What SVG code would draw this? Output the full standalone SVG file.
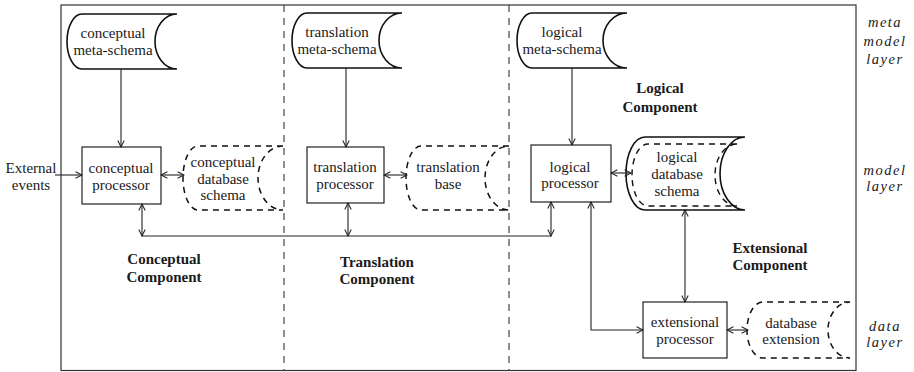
<svg xmlns="http://www.w3.org/2000/svg" width="914" height="372" viewBox="0 0 914 372">
<style>
text{font-family:"Liberation Serif","DejaVu Serif",serif;font-size:15px;fill:#1a1a1a;text-anchor:middle}
.b{font-weight:bold}
.i{font-style:italic;letter-spacing:1.5px;font-size:14.5px}
.box{fill:#fff;stroke:#222;stroke-width:1.2}
.store{fill:#fff;stroke:#111;stroke-width:1.6}
.dstore{fill:#fff;stroke:#111;stroke-width:1.5;stroke-dasharray:6 5}
.ln{fill:none;stroke:#222;stroke-width:1.1}
.frame{fill:none;stroke:#333;stroke-width:1.2}
.div{fill:none;stroke:#333;stroke-width:1.1;stroke-dasharray:7 6}
</style>
<defs>
<marker id="ah" viewBox="0 0 10 10" refX="9" refY="5" markerWidth="8" markerHeight="8" markerUnits="userSpaceOnUse" orient="auto-start-reverse">
<path d="M1,1 L9,5 L1,9" fill="none" stroke="#222" stroke-width="1.3"/>
</marker>
</defs>
<rect class="frame" x="61" y="5" width="795" height="365.5"/>
<line class="div" x1="284" y1="5" x2="284" y2="371"/>
<line class="div" x1="509" y1="5" x2="509" y2="371"/>

<g id="conceptual-meta-schema">
<path class="store" d="M177,14 L82,14 A15,27.5 0 0 0 82,69 L177,69 A22,27.5 0 0 1 177,14 Z"/>
<text x="113" y="38">conceptual</text><text x="113" y="55">meta-schema</text>
</g>
<g id="translation-meta-schema">
<path class="store" d="M402,13 L307,13 A15,27.5 0 0 0 307,68 L402,68 A23,27.5 0 0 1 402,13 Z"/>
<text x="337" y="37">translation</text><text x="337" y="54">meta-schema</text>
</g>
<g id="logical-meta-schema">
<path class="store" d="M627,13 L532,13 A15,27.5 0 0 0 532,68 L627,68 A24,27.5 0 0 1 627,13 Z"/>
<text x="562" y="37">logical</text><text x="562" y="54">meta-schema</text>
</g>

<g id="external-events"><text x="31" y="173">External</text><text x="31" y="190">events</text></g>

<g id="conceptual-processor">
<rect class="box" x="82" y="147" width="79" height="57"/>
<text x="121" y="173">conceptual</text><text x="121" y="190">processor</text>
</g>
<g id="conceptual-database-schema">
<path class="dstore" d="M283,146 L198,146 A15,32 0 0 0 198,210 L283,210 A25,32 0 0 1 283,146"/>
<text x="223" y="167">conceptual</text><text x="223" y="184">database</text><text x="223" y="200">schema</text>
</g>
<g id="translation-processor">
<rect class="box" x="307" y="147" width="77" height="56"/>
<text x="345" y="172">translation</text><text x="345" y="189">processor</text>
</g>
<g id="translation-base">
<path class="dstore" d="M509,146 L421,146 A15,32 0 0 0 421,210 L509,210 A24,32 0 0 1 509,146"/>
<text x="448" y="172">translation</text><text x="448" y="189">base</text>
</g>
<g id="logical-processor">
<rect class="box" x="531" y="145" width="80" height="57"/>
<text x="570" y="172">logical</text><text x="570" y="188">processor</text>
</g>
<g id="logical-database-schema">
<path class="store" d="M745,137 L645,137 A19,36.5 0 0 0 645,210 L745,210 A25,36.5 0 0 1 745,137 Z"/>
<path fill="none" stroke="#111" stroke-width="1.4" stroke-dasharray="6 5" d="M737,144 L648,144 A16,31 0 0 0 648,206 L737,206 A22,31 0 0 1 737,144"/>
<text x="677" y="162">logical</text><text x="677" y="179">database</text><text x="677" y="196">schema</text>
</g>
<g id="logical-component"><text class="b" x="660" y="93">Logical</text><text class="b" x="660" y="112">Component</text></g>
<g id="conceptual-component"><text class="b" x="164" y="264">Conceptual</text><text class="b" x="164" y="282">Component</text></g>
<g id="translation-component"><text class="b" x="377" y="267">Translation</text><text class="b" x="377" y="284">Component</text></g>
<g id="extensional-component"><text class="b" x="770" y="253">Extensional</text><text class="b" x="770" y="270">Component</text></g>

<g id="extensional-processor">
<rect class="box" x="643" y="302" width="84" height="56"/>
<text x="685" y="327">extensional</text><text x="685" y="344">processor</text>
</g>
<g id="database-extension">
<path class="dstore" d="M850,302 L763,302 A16,28 0 0 0 763,358 L850,358 A22,28 0 0 1 850,302"/>
<text x="791" y="328">database</text><text x="791" y="344">extension</text>
</g>

<g id="layer-labels">
<text class="i" x="885" y="27">meta</text><text class="i" x="885" y="46">model</text><text class="i" x="885" y="64">layer</text>
<text class="i" x="885" y="175">model</text><text class="i" x="885" y="191">layer</text>
<text class="i" x="885" y="331">data</text><text class="i" x="885" y="347">layer</text>
</g>

<g id="connectors">
<line class="ln" x1="121" y1="69" x2="121" y2="147" marker-end="url(#ah)"/>
<line class="ln" x1="346" y1="68" x2="346" y2="147" marker-end="url(#ah)"/>
<line class="ln" x1="572" y1="68" x2="572" y2="145" marker-end="url(#ah)"/>
<line class="ln" x1="55" y1="175" x2="82" y2="175" marker-end="url(#ah)"/>
<line class="ln" x1="161" y1="175" x2="184" y2="175" marker-start="url(#ah)" marker-end="url(#ah)"/>
<line class="ln" x1="384" y1="175" x2="407" y2="175" marker-start="url(#ah)" marker-end="url(#ah)"/>
<line class="ln" x1="611" y1="173" x2="631" y2="173" marker-start="url(#ah)" marker-end="url(#ah)"/>
<line class="ln" x1="142" y1="204" x2="142" y2="236" marker-start="url(#ah)" marker-end="url(#ah)"/>
<line class="ln" x1="348" y1="203" x2="348" y2="236" marker-start="url(#ah)" marker-end="url(#ah)"/>
<line class="ln" x1="551" y1="202" x2="551" y2="236" marker-start="url(#ah)" marker-end="url(#ah)"/>
<line class="ln" x1="142" y1="236" x2="551" y2="236"/>
<line class="ln" x1="685" y1="210" x2="685" y2="302" marker-start="url(#ah)" marker-end="url(#ah)"/>
<path class="ln" d="M591,202 L591,330 L643,330" marker-start="url(#ah)" marker-end="url(#ah)"/>
<line class="ln" x1="727" y1="330" x2="748" y2="330" marker-start="url(#ah)" marker-end="url(#ah)"/>
</g>
</svg>
